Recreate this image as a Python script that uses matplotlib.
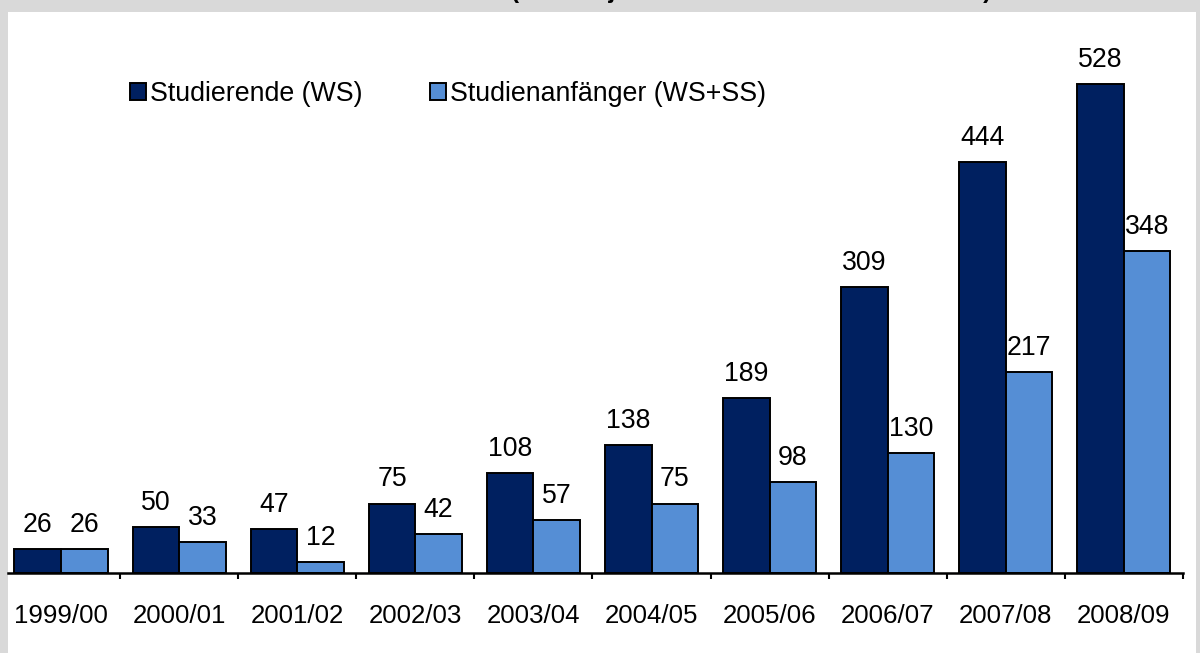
import numpy as np
import matplotlib.pyplot as plt
from matplotlib.patches import Rectangle

# -----------------------------
# DATA
# -----------------------------
semesters = ["1999/00", "2000/01", "2001/02", "2002/03", "2003/04",
             "2004/05", "2005/06", "2006/07", "2007/08", "2008/09"]
studierende = [26, 50, 47, 75, 108, 138, 189, 309, 444, 528]
anfaenger = [26, 33, 12, 42, 57, 75, 98, 130, 217, 348]

dark_blue = "#002060"
light_blue = "#558ed5"

plt.rcParams['font.family'] = ['Liberation Sans', 'DejaVu Sans']

fig = plt.figure(figsize=(12, 6.53), dpi=100)
fig.patch.set_facecolor("#d9d9d9")
W, H = 1200, 653

# white panel behind the chart
fig.patches.append(Rectangle((8 / W, 0), (1196 - 8) / W, (653 - 12) / H,
                             transform=fig.transFigure, facecolor="white",
                             edgecolor="none", zorder=-1))

# title, mostly cut off at the top edge
fig.text(511 / W, 1 + 2 / H, "(Studienjahre 1999 bis 2008 im Überblick)",
         ha="left", va="baseline", fontsize=17.5, fontweight="bold")

ax = fig.add_axes([8 / W, 80 / H, (1183 - 8) / W, (573 - 12) / H])
ax.set_facecolor("none")
ax.set_zorder(2)

x = np.arange(len(semesters))
bw = 0.394
b1 = ax.bar(x - bw / 2, studierende, bw, color=dark_blue, edgecolor="black",
            linewidth=1.4, label="Studierende (WS)")
b2 = ax.bar(x + bw / 2, anfaenger, bw, color=light_blue, edgecolor="black",
            linewidth=1.4, label="Studienanfänger (WS+SS)")

for bars, vals in [(b1, studierende), (b2, anfaenger)]:
    for rect, v in zip(bars, vals):
        ax.annotate(str(v), (rect.get_x() + rect.get_width() / 2, v),
                    xytext=(0, 8), textcoords="offset points",
                    ha="center", va="bottom", fontsize=19.2)

ax.set_xlim(-0.449, 9.5)
ax.set_ylim(0, 606)
ax.set_yticks([])
for s in ["left", "right", "top"]:
    ax.spines[s].set_visible(False)
ax.spines["bottom"].set_linewidth(1.8)

ax.set_xticks(x)
ax.set_xticklabels(semesters, fontsize=18.6)
ax.tick_params(axis="x", which="major", length=0, pad=22)
ax.set_xticks(np.arange(0.5, 10, 1), minor=True)
ax.tick_params(axis="x", which="minor", length=4, width=1.5, direction="out")

ax.legend(loc="center left", bbox_to_anchor=(130 / W, 1 - 94 / H),
          bbox_transform=fig.transFigure, ncol=2, frameon=False,
          fontsize=19.3, handlelength=0.6, handleheight=0.6,
          handletextpad=0.16, columnspacing=2.5, borderpad=0,
          borderaxespad=0)

fig.savefig("out.png", dpi=100, facecolor=fig.get_facecolor())
